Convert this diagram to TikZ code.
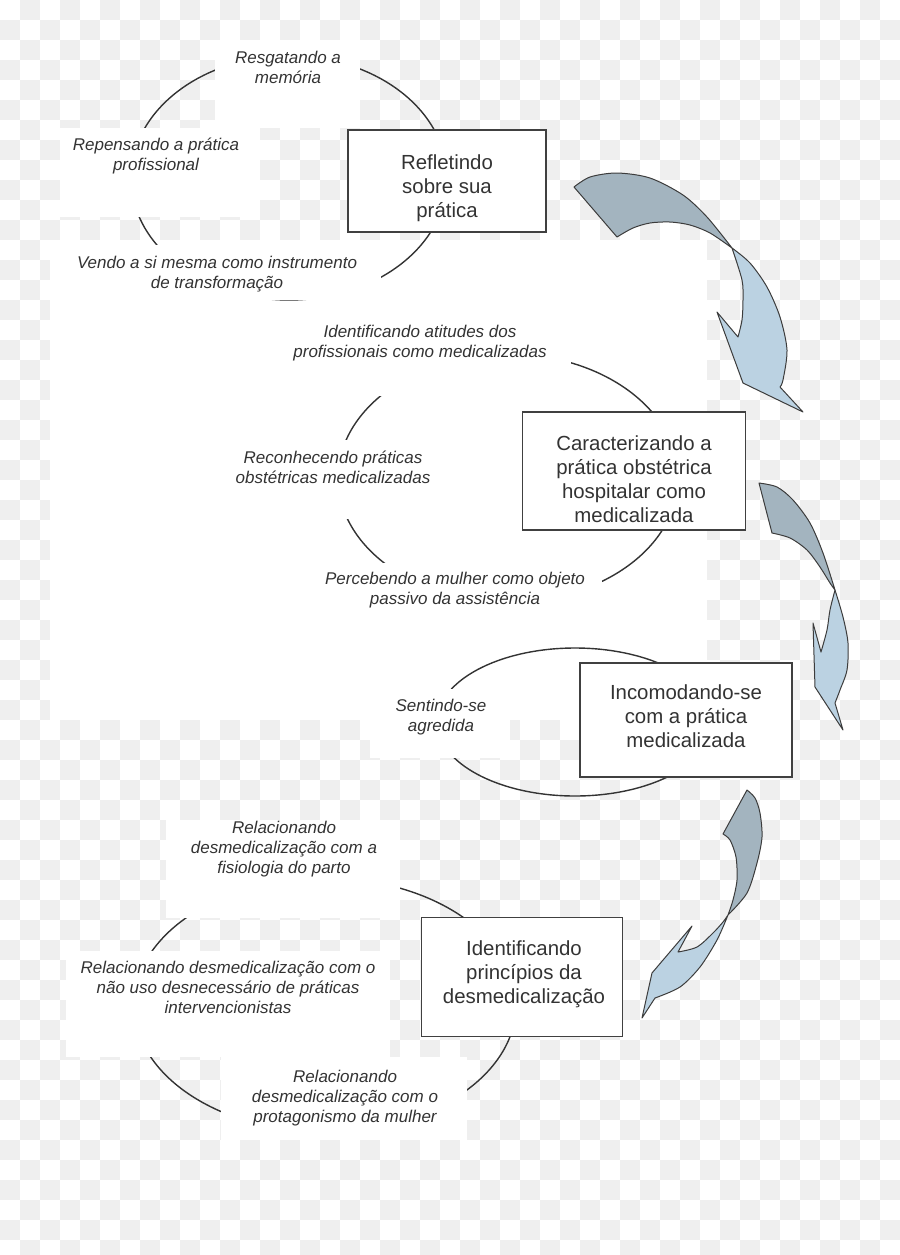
\documentclass[tikz,border=0pt]{standalone}
\usepackage{fontspec}
\setmainfont{Liberation Sans}
\definecolor{inkgray}{HTML}{333333}
\definecolor{boxgray}{HTML}{404040}
\definecolor{arrowgray}{HTML}{3C3C3C}
\definecolor{checkgray}{HTML}{EFEFEF}
\definecolor{backblue}{HTML}{A3B4BF}
\definecolor{frontblue}{HTML}{BBD2E2}

\begin{document}
\begin{tikzpicture}[x=0.5pt,y=-0.5pt,
  cycleline/.style={draw=inkgray, line width=0.7pt},
  paper/.style={fill=white},
  steptext/.style={text=inkgray, align=center, inner sep=0pt,
    font=\fontsize{8.5pt}{10pt}\selectfont\itshape},
  stagebox/.style={draw=boxgray, line width=0.75pt, fill=white, inner sep=0pt},
  boxtext/.style={text=inkgray, align=center, inner sep=0pt,
    font=\fontsize{10.2pt}{12pt}\selectfont},
  backpart/.style={fill=backblue, draw=arrowgray, line width=0.5pt, line join=round},
  frontpart/.style={fill=frontblue, draw=arrowgray, line width=0.5pt, line join=round}]

  \useasboundingbox (0,0) rectangle (900,1255);

  % Checkered background
  \foreach \j in {0,...,62}{
    \pgfmathtruncatemacro\off{mod(\j+1,2)}
    \foreach \i in {0,...,22}{
      \fill[checkgray] ({(2*\i+\off)*20},{\j*20}) rectangle +(20,20);
    }
  }
  \fill[paper] (50,240) rectangle (707,720);

  % The four cycles
  \draw[cycleline] (289,178) ellipse [x radius=158, y radius=122];
  \draw[cycleline] (508,478) ellipse [x radius=170, y radius=124];
  \draw[cycleline] (575,722) ellipse [x radius=138, y radius=74];
  \draw[cycleline] (325,1005) ellipse [x radius=191, y radius=127];

  % White patches behind the labels
  \fill[paper] (215,40) rectangle (360,128);
  \fill[paper] (60,128) rectangle (260,217);
  \fill[paper] (70,245) rectangle (381,300);
  \fill[paper] (270,320) rectangle (571,396);
  \fill[paper] (225,440) rectangle (440,519);
  \fill[paper] (308,563) rectangle (602,610);
  \fill[paper] (370,689) rectangle (510,758);
  \fill[paper] (166,820) rectangle (400,918);
  \fill[paper] (66,951) rectangle (390,1057);
  \fill[paper] (221,1057) rectangle (467,1140);

  % Labels of the first cycle
  \node[steptext] (resgate) at (288,67) {Resgatando a\\memória};
  \node[steptext] (repensa) at (156,156) {Repensando a prática\\profissional};
  \node[steptext] (instrum) at (217,274) {Vendo a si mesma como instrumento\\de transformação};

  % Labels of the second cycle
  \node[steptext] (atitude) at (420,343) {Identificando atitudes dos\\profissionais como medicalizadas};
  \node[steptext] (reconhe) at (333,467) {Reconhecendo práticas\\obstétricas medicalizadas};
  \node[steptext] (passiva) at (455,590) {Percebendo a mulher como objeto\\passivo da assistência};

  % Label of the third cycle
  \node[steptext] (agredida) at (441,717) {Sentindo-se\\agredida};

  % Labels of the fourth cycle
  \node[steptext] (fisiol) at (284,849) {Relacionando\\desmedicalização com a\\fisiologia do parto};
  \node[steptext] (naouso) at (228,987) {Relacionando desmedicalização com o\\não uso desnecessário de práticas\\intervencionistas};
  \node[steptext] (protag) at (345,1098) {Relacionando\\desmedicalização com o\\protagonismo da mulher};

  % Stage boxes
  \node[stagebox, minimum width=99pt, minimum height=51pt,
    label={[boxtext, yshift=-3.5pt]center:{Refletindo\\sobre sua\\prática}}] (reflete) at (447,181) {};
  \node[stagebox, minimum width=111.5pt, minimum height=59pt,
    label={[boxtext, yshift=-4pt]center:{Caracterizando a\\prática obstétrica\\hospitalar como\\medicalizada}}] (caract) at (634,471) {};
  \node[stagebox, minimum width=106pt, minimum height=57pt,
    label={[boxtext, yshift=2pt]center:{Incomodando-se\\com a prática\\medicalizada}}] (incomoda) at (686,720) {};
  \node[stagebox, minimum width=100.5pt, minimum height=59.5pt,
    label={[boxtext, yshift=1.5pt, xshift=1pt]center:{Identificando\\princípios da\\desmedicalização}}] (princip) at (522,977) {};

  % Curved arrow from the first to the second stage
  \filldraw[backpart] plot[smooth] coordinates {(574,187) (590,177) (617,173) (650,178) (683,195) (707,217) (732,248)}
    -- plot[smooth] coordinates {(732,248) (710,233) (690,225) (670,222) (650,223) (633,228) (617,237)} -- cycle;
  \filldraw[frontpart] plot[smooth] coordinates {(732,248) (750,263) (767,287) (780,317) (787,350) (783,380) (780,387)}
    -- (803,412) -- (743,383) -- (717,312) -- (738,337)
    -- plot[smooth] coordinates {(738,337) (742,320) (743,300) (742,280) (732,248)} -- cycle;

  % Curved arrow from the second to the third stage
  \filldraw[backpart] plot[smooth] coordinates {(759,483) (777,487) (793,500) (810,523) (823,553) (835,590)}
    -- plot[smooth] coordinates {(835,590) (830,583) (820,567) (807,550) (790,538) (772,533)} -- cycle;
  \filldraw[frontpart] plot[smooth] coordinates {(835,590) (843,617) (848,643) (847,670) (840,690) (835,703)}
    -- (843,730) -- (815,687) -- (813,623) -- (821,652)
    -- plot[smooth] coordinates {(821,652) (827,630) (830,610) (835,590)} -- cycle;

  % Curved arrow from the third to the fourth stage
  \filldraw[backpart] plot[smooth] coordinates {(747,790) (755,798) (760,813) (762,837) (757,863) (747,893) (728,915)}
    -- plot[smooth] coordinates {(728,915) (733,900) (737,880) (736,857) (730,840) (723,834)} -- cycle;
  \filldraw[frontpart] plot[smooth] coordinates {(728,915) (717,940) (700,967) (680,987) (655,998)}
    -- (642,1018) -- (652,973) -- (692,926) -- (678,952)
    -- plot[smooth] coordinates {(678,952) (697,947) (713,933) (723,922) (728,915)} -- cycle;
\end{tikzpicture}
\end{document}
